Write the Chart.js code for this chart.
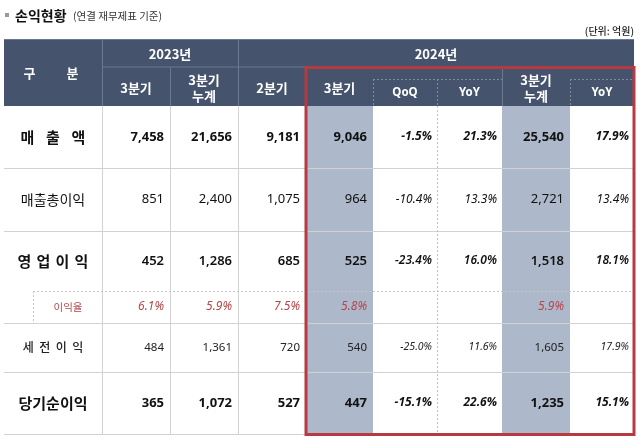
<!DOCTYPE html>
<html>
<head>
<meta charset="utf-8">
<script src="https://cdn.jsdelivr.net/npm/chart.js@4"></script>
<style>
  html, body { margin: 0; padding: 0; background: #fff; }
  canvas { display: block; }
</style>
</head>
<body>
<canvas id="chart" width="640" height="441"></canvas>
<script>
// table content
const rowLabels = ['매출액', '매출총이익', '영업이익', '세전이익', '당기순이익'];
const marginLabel = '이익율';
const yearLabels = ['2023년', '2024년'];
const colLabels = ['3분기', '3분기\n누계', '2분기', '3분기', 'QoQ', 'YoY', '3분기\n누계', 'YoY'];

const q3_2023  = [7458, 851, 452, 484, 365];
const cum_2023 = [21656, 2400, 1286, 1361, 1072];
const q2_2024  = [9181, 1075, 685, 720, 527];
const q3_2024  = [9046, 964, 525, 540, 447];
const qoq      = [-1.5, -10.4, -23.4, -25.0, -15.1];
const yoy      = [21.3, 13.3, 16.0, 11.6, 22.6];
const cum_2024 = [25540, 2721, 1518, 1605, 1235];
const yoyCum   = [17.9, 13.4, 18.1, 17.9, 15.1];
const opMargin = [6.1, 5.9, 7.5, 5.8, null, null, 5.9, null];

const columns = [q3_2023, cum_2023, q2_2024, q3_2024, qoq, yoy, cum_2024, yoyCum];
const isPct = [false, false, false, false, true, true, false, true];

// layout (scale units)
const colEdges = [4, 102, 170, 238, 306, 373, 437, 502, 570, 634];
const rowEdges = [106, 168, 231, 291, 323, 372, 434];
const KFONT = '"Noto Sans CJK KR", sans-serif';
const NFONT = '"Noto Sans", "Noto Sans CJK KR", sans-serif';
const NAVY = '#45546c';
const HILITE = '#adb9ca';
const GRID = '#d2d2d2';
const RED = '#b63a40';

const rowStyle = [
  { w: 'bold', size: 13, color: '#111', pitch: 25.5, lw: 'bold', lsize: 15 },
  { w: 'normal', size: 13, color: '#111', pitch: 0, lw: 'normal', lsize: 14 },
  { w: '600', size: 13, color: '#111', pitch: 19, lw: 'bold', lsize: 15 },
  { w: 'normal', size: 11.5, color: '#222', pitch: 16.5, lw: '500', lsize: 12 },
  { w: 'bold', size: 13, color: '#111', pitch: 0, lw: 'bold', lsize: 15 }
];
// body rows excluding the margin row
const bodyRows = [0, 1, 2, 4, 5];

const tablePlugin = {
  id: 'table',
  beforeDraw(chart) {
    const ctx = chart.ctx, xs = chart.scales.x, ys = chart.scales.y;
    const X = v => xs.getPixelForValue(v);
    const Y = v => ys.getPixelForValue(v);
    const text = (s, x, y, font, color, align) => {
      ctx.font = font; ctx.fillStyle = color;
      ctx.textAlign = align || 'center'; ctx.textBaseline = 'middle';
      ctx.fillText(s, X(x), Y(y));
    };
    const spread = (s, cx, y, pitch, font, color) => {
      if (!pitch) { text(s, cx, y, font, color); return; }
      const ch = [...s];
      ch.forEach((c, i) => text(c, cx + (i - (ch.length - 1) / 2) * pitch, y, font, color));
    };
    const line = (x1, y1, x2, y2, color, w, dash) => {
      ctx.save();
      ctx.strokeStyle = color; ctx.lineWidth = w || 1;
      ctx.setLineDash(dash || []);
      ctx.beginPath(); ctx.moveTo(X(x1), Y(y1)); ctx.lineTo(X(x2), Y(y2)); ctx.stroke();
      ctx.restore();
    };
    const rect = (x1, y1, x2, y2, color) => {
      ctx.fillStyle = color;
      ctx.fillRect(X(x1), Y(y1), X(x2) - X(x1), Y(y2) - Y(y1));
    };

    ctx.save();
    rect(0, 0, 640, 441, '#fff');

    // title
    rect(5, 13, 9, 17, '#9a9a9a');
    text('손익현황', 15, 16, 'bold 14px ' + KFONT, '#111', 'left');
    text('(연결 재무제표 기준)', 73, 16.5, '10.5px ' + KFONT, '#333', 'left');
    text('(단위: 억원)', 634, 31, '500 10px ' + KFONT, '#222', 'right');

    // header
    rect(colEdges[0], 39, colEdges[9], 106, NAVY);
    line(colEdges[0], 39.5, colEdges[9], 39.5, '#6b7890');
    line(102, 67, 634, 67, '#6b7890');
    [102, 238].forEach(x => line(x + 0.5, 39, x + 0.5, 106, '#6b7890'));
    [170, 306, 502].forEach(x => line(x + 0.5, 67, x + 0.5, 106, '#6b7890'));
    [373, 437, 570].forEach(x => line(x + 0.5, 79, x + 0.5, 106, '#7f8a9c', 1, [2, 2]));
    line(373, 79.5, 502, 79.5, '#7f8a9c', 1, [2, 2]);
    line(570, 79.5, 634, 79.5, '#7f8a9c', 1, [2, 2]);

    const hf = 'bold 13px ' + KFONT;
    spread('구분', 51, 73, 43, hf, '#fff');
    text(yearLabels[0], (102 + 238) / 2, 54, hf, '#fff');
    text(yearLabels[1], (238 + 634) / 2, 54, hf, '#fff');
    colLabels.forEach((lab, i) => {
      const cx = (colEdges[i + 1] + colEdges[i + 2]) / 2;
      const parts = lab.split('\n');
      if (parts.length === 2) {
        text(parts[0], cx, 80, hf, '#fff');
        text(parts[1], cx, 96, hf, '#fff');
      } else if (lab === 'QoQ' || lab === 'YoY') {
        text(lab, cx, 93, 'bold 11.5px ' + NFONT, '#fff');
      } else {
        text(lab, cx, 88, hf, '#fff');
      }
    });

    // highlighted columns
    rect(306, 106, 373, 434, HILITE);
    rect(502, 106, 570, 434, HILITE);

    // body grid
    [168, 231, 323, 372, 434].forEach(y => line(4, y + 0.5, 634, y + 0.5, GRID));
    line(33, 291.5, 634, 291.5, '#c4c4c4', 1, [2, 2]);
    line(33.5, 291, 33.5, 323, '#c4c4c4', 1, [2, 2]);
    [102, 170, 238].forEach(x => line(x + 0.5, 106, x + 0.5, 434, GRID));
    line(437.5, 106, 437.5, 434, '#c4c4c4', 1, [2, 2]);

    // body text
    bodyRows.forEach((r, k) => {
      const st = rowStyle[k];
      const cy = (rowEdges[r] + rowEdges[r + 1]) / 2;
      spread(rowLabels[k], 53, cy, st.pitch, st.lw + ' ' + st.lsize + 'px ' + KFONT, st.color);
      columns.forEach((col, c) => {
        const v = col[k];
        const right = colEdges[c + 2] - (isPct[c] ? 5 : 6);
        if (isPct[c]) {
          text(v.toFixed(1) + '%', right, cy, 'italic ' + st.w + ' ' + (st.size - 1) + 'px ' + NFONT, st.color, 'right');
        } else {
          text(v.toLocaleString('en-US'), right, cy, st.w + ' ' + st.size + 'px ' + NFONT, st.color, 'right');
        }
      });
    });
    // margin row
    const my = (rowEdges[3] + rowEdges[4]) / 2;
    text(marginLabel, 68, my, '10.5px ' + KFONT, '#b5474c');
    opMargin.forEach((v, c) => {
      if (v === null) return;
      text(v.toFixed(1) + '%', colEdges[c + 2] - 6, my, 'italic 12px ' + NFONT, '#b5474c', 'right');
    });

    // red frame
    ctx.strokeStyle = RED; ctx.lineWidth = 3;
    ctx.strokeRect(X(306), Y(67.5), X(634) - X(306), Y(434.5) - Y(67.5));
    ctx.restore();
  }
};

new Chart(document.getElementById('chart').getContext('2d'), {
  type: 'scatter',
  data: { datasets: [{ data: [], pointRadius: 0 }] },
  options: {
    responsive: false,
    animation: false,
    events: [],
    layout: { padding: 0 },
    scales: {
      x: { type: 'linear', min: 0, max: 640, display: false },
      y: { type: 'linear', min: 0, max: 441, reverse: true, display: false }
    },
    plugins: { legend: { display: false }, tooltip: { enabled: false } }
  },
  plugins: [tablePlugin]
});
</script>
</body>
</html>
